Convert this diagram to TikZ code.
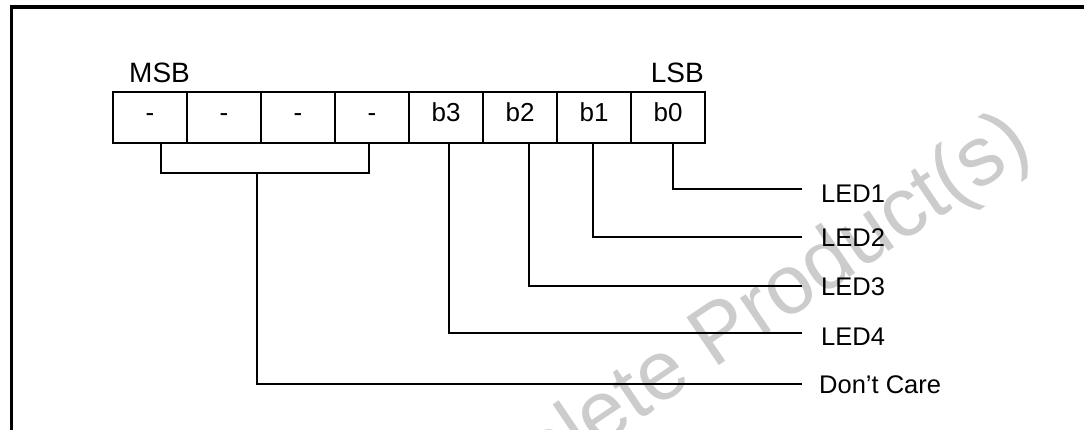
\documentclass[tikz,border=0pt]{standalone}
\usepackage{fontspec}
\setmainfont{Liberation Sans}
\begin{document}
\begin{tikzpicture}[x=1pt,y=-1pt,
  bitbox/.style={draw, line width=1.3pt, minimum width=74pt, minimum height=51pt,
    inner sep=0pt, text height=0.72em, text depth=0pt,
    font=\fontsize{26}{30}\selectfont},
  msblabel/.style={inner sep=0pt, font=\fontsize{28}{32}\selectfont},
  ledlabel/.style={inner sep=0pt, anchor=base west, font=\fontsize{25.5}{30}\selectfont},
  wire/.style={line width=2.2pt},
  frame/.style={line width=3.5pt},
  wmark/.style={text=black!20, inner sep=0pt, font=\fontsize{84}{94}\selectfont}]
\useasboundingbox (0,0) rectangle (1084,430);
% watermark
\node[wmark, rotate=34, anchor=base east] (wm) at (1035,153) {Obsolete Product(s)};
% frame
\draw[frame] (11.5,436) |- (1090,7);
% bit boxes
\node[bitbox] (c7) at (150,117.5) {-};
\node[bitbox] (c6) at (224,117.5) {-};
\node[bitbox] (c5) at (298,117.5) {-};
\node[bitbox] (c4) at (372,117.5) {-};
\node[bitbox] (c3) at (446,117.5) {b3};
\node[bitbox] (c2) at (520,117.5) {b2};
\node[bitbox] (c1) at (594,117.5) {b1};
\node[bitbox] (c0) at (668,117.5) {b0};
% MSB / LSB
\node[msblabel, anchor=base west] (msb) at (129,83) {MSB};
\node[msblabel, anchor=base east] (lsb) at (704,83) {LSB};
% labels
\node[ledlabel] (led1) at (821,203) {LED1};
\node[ledlabel] (led2) at (821,247) {LED2};
\node[ledlabel] (led3) at (821,296) {LED3};
\node[ledlabel] (led4) at (821,345) {LED4};
\node[ledlabel] (dc) at (819,393) {Don’t Care};
% wire ends
\coordinate (e1) at (802,189);
\coordinate (e2) at (802,237);
\coordinate (e3) at (802,286);
\coordinate (e4) at (802,333);
\coordinate (e5) at (802,384);
\coordinate (j) at (257,173);
% connectors
\draw[wire] ([xshift=5pt]c0.south) |- (e1);
\draw[wire] ([xshift=-1pt]c1.south) |- (e2);
\draw[wire] ([xshift=9pt]c2.south) |- (e3);
\draw[wire] ([xshift=3pt]c3.south) |- (e4);
\draw[wire] ([xshift=11pt]c7.south) |- (j) -| ([xshift=-3pt]c4.south);
\draw[wire] (j) |- (e5);
\end{tikzpicture}
\end{document}
